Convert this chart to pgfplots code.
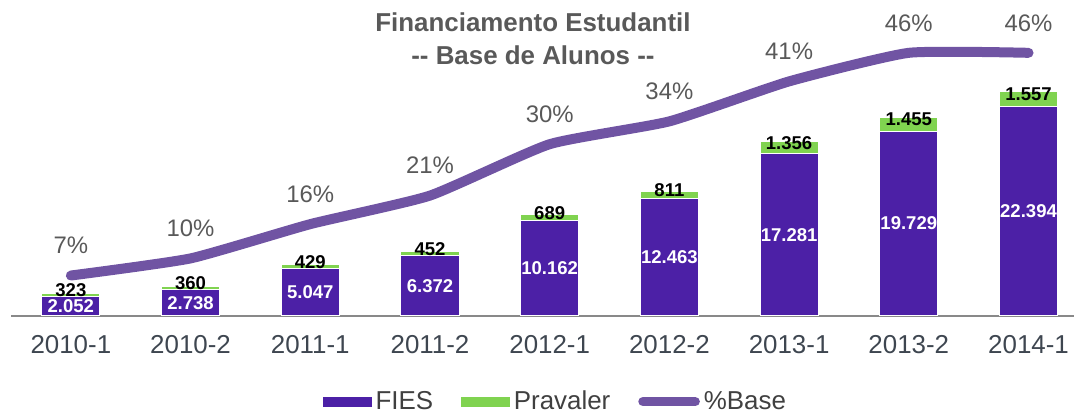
\documentclass[border=0pt]{standalone}
\usepackage{fontspec}
\setmainfont{Liberation Sans}
\usepackage{pgfplots}
\usepackage{pgfplotstable}
\pgfplotsset{compat=1.18}
\pgfplotsset{/pgf/number format/assume math mode=true}

\definecolor{fiescol}{RGB}{76,32,166}
\definecolor{pravcol}{RGB}{128,211,80}
\definecolor{linecol}{RGB}{112,84,163}
\definecolor{titlegray}{RGB}{89,89,89}
\definecolor{tickcol}{RGB}{62,70,80}
\definecolor{legcol}{RGB}{64,64,64}
\definecolor{axisgray}{RGB}{137,137,137}

% base de alunos por semestre
\pgfplotstableread{
x fies prav pct fieslab pravlab
0 2052 323 7 2.052 323
1 2738 360 10 2.738 360
2 5047 429 16 5.047 429
3 6372 452 21 6.372 452
4 10162 689 30 10.162 689
5 12463 811 34 12.463 811
6 17281 1356 41 17.281 1.356
7 19729 1455 46 19.729 1.455
8 22394 1557 46 22.394 1.557
}\fiesdata

\tikzset{barlab/.style={font=\bfseries\fontsize{9.3}{10}\selectfont}}

\begin{document}
\begin{tikzpicture}
\useasboundingbox (-5.5bp,-48.5bp) rectangle (531.5bp,157.75bp);
\pgfplotsset{base/.style={
    width=531.5bp, height=157.75bp, scale only axis,
    xmin=-0.5, xmax=8.38, at={(0,0)}, anchor=south west}}

% barras empilhadas
\begin{axis}[base,
    ymin=0, ymax=33740,
    ybar stacked, bar width=0.485,
    axis y line=none, axis x line*=bottom,
    x axis line style={draw=axisgray, line width=1bp},
    xtick={0,...,8},
    xticklabels={2010-1,2010-2,2011-1,2011-2,2012-1,2012-2,2013-1,2013-2,2014-1},
    major tick length=0,
    xticklabel style={font=\fontsize{13}{15}\selectfont, text=tickcol, yshift=-6.5bp},
]
\addplot[fill=fiescol, draw=white, line width=0.5bp] table[x=x, y=fies]{\fiesdata};
\addplot[fill=pravcol, draw=white, line width=0.5bp] table[x=x, y=prav]{\fiesdata};
\end{axis}

% rotulos das barras
\begin{axis}[base, ymin=0, ymax=33740, hide axis, clip=false]
\addplot[draw=none, nodes near coords, point meta=explicit symbolic,
    nodes near coords align=center,
    every node near coord/.append style={barlab, text=white}]
    table[x=x, y expr=\thisrow{fies}/2, meta=fieslab]{\fiesdata};
\addplot[draw=none, nodes near coords, point meta=explicit symbolic,
    nodes near coords align=center,
    every node near coord/.append style={barlab, text=black, yshift=2.3bp}]
    table[x=x, y expr=\thisrow{fies}+\thisrow{prav}/2, meta=pravlab]{\fiesdata};
\end{axis}

% linha %Base
\begin{axis}[base, ymin=0, ymax=55.25, hide axis, clip=false,
    legend columns=3,
    legend style={at={(0.513,-0.273)}, anchor=center, draw=none, fill=none,
        font=\color{legcol}\fontsize{13}{15}\selectfont,
        nodes={inner ysep=0.5bp},
        /tikz/every even column/.append style={column sep=12bp}},
]
\addlegendimage{legend image code/.code={\fill[fiescol] (0bp,-2.3bp) rectangle (24bp,2.3bp);}}
\addlegendentry{FIES}
\addlegendimage{legend image code/.code={\fill[pravcol] (0bp,-2.3bp) rectangle (24bp,2.3bp);}}
\addlegendentry{Pravaler}
\addplot[linecol, line width=5bp, line cap=round, smooth, tension=0.3,
    nodes near coords={\pgfmathprintnumber{\pgfplotspointmeta}\%},
    point meta=explicit, nodes near coords align=center,
    every node near coord/.append style={yshift=15bp, font=\fontsize{12}{14}\selectfont, text=titlegray},
    legend image code/.code={\draw[linecol, line width=4.6bp, line cap=round] (2.3bp,0bp) -- (28.5bp,0bp);}]
    table[x=x, y=pct, meta=pct]{\fiesdata};
\addlegendentry{\%Base}
\node[align=center, font=\bfseries\fontsize{13}{16.5}\selectfont, text=titlegray]
    at (rel axis cs:0.491,0.878) {Financiamento Estudantil\\-{}- Base de Alunos -{}-};
\end{axis}
\end{tikzpicture}
\end{document}
